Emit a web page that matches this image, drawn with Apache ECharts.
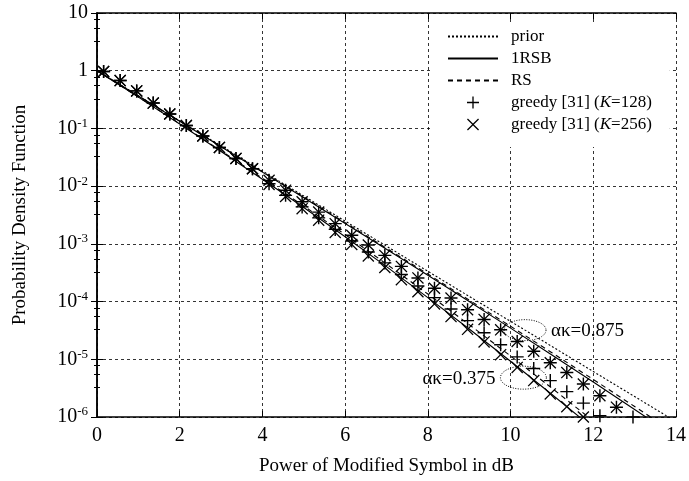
<!DOCTYPE html>
<html>
<head>
<meta charset="utf-8">
<script src="https://cdn.jsdelivr.net/npm/echarts@6/dist/echarts.min.js"></script>
<style>
  html, body { margin: 0; padding: 0; background: #fff; }
  #chart { width: 689px; height: 481px; }
</style>
</head>
<body>
<div id="chart"></div>
<script>
// curves (x in dB, pdf values)
const lineX = [0, 1, 2, 3, 4, 5, 6, 7, 8, 9, 10, 11, 12, 13, 14]
const prior = [1, 0.368, 0.135, 0.0498, 0.0183, 6.74e-3, 2.48e-3, 9.12e-4, 3.35e-4, 1.23e-4, 4.54e-5, 1.67e-5, 6.14e-6, 2.26e-6, 8.32e-7]
const rsb875 = [1, 0.366, 0.133, 0.0483, 0.0175, 6.31e-3, 2.26e-3, 8.07e-4, 2.85e-4, 1.0e-4, 3.47e-5, 1.19e-5, 4.03e-6, 1.35e-6, 4.47e-7]
const rs875 = [1, 0.366, 0.134, 0.0488, 0.0178, 6.46e-3, 2.33e-3, 8.39e-4, 3.0e-4, 1.06e-4, 3.74e-5, 1.30e-5, 4.47e-6, 1.52e-6, 5.13e-7]
const rsb375 = [1, 0.349, 0.119, 0.0398, 0.0132, 4.27e-3, 1.33e-3, 4.03e-4, 1.17e-4, 3.35e-5, 9.23e-6, 2.45e-6, 6.38e-7]
const rs375 = [1, 0.351, 0.121, 0.0409, 0.0137, 4.52e-3, 1.45e-3, 4.47e-4, 1.35e-4, 3.98e-5, 1.14e-5, 3.16e-6, 8.51e-7]

// greedy [31] simulation points
const markerX = [0.16, 0.56, 0.96, 1.36, 1.76, 2.16, 2.56, 2.96, 3.36, 3.76, 4.16, 4.56, 4.96, 5.36, 5.76, 6.16, 6.56, 6.96, 7.36, 7.76, 8.16, 8.56, 8.96, 9.36, 9.76, 10.16, 10.56, 10.96, 11.36, 11.76, 12.16, 12.56, 12.96]
const k128a875 = [0.97, 0.676, 0.447, 0.275, 0.178, 0.112, 0.0741, 0.0468, 0.0302, 0.0200, 0.0126, 8.51e-3, 5.37e-3, 3.55e-3, 2.24e-3, 1.41e-3, 9.55e-4, 6.31e-4, 4.07e-4, 2.57e-4, 1.70e-4, 1.15e-4, 7.24e-5, 4.90e-5, 3.24e-5, 2.04e-5, 1.38e-5, 8.71e-6, 5.89e-6, 3.72e-6, 2.34e-6, 1.48e-6, 1.0e-6]
const k256a875 = [0.97, 0.676, 0.447, 0.275, 0.178, 0.112, 0.0741, 0.0468, 0.0302, 0.0200, 0.0126, 8.51e-3, 5.37e-3, 3.55e-3, 2.24e-3, 1.41e-3, 9.55e-4, 6.31e-4, 4.07e-4, 2.57e-4, 1.70e-4, 1.15e-4, 7.24e-5, 4.90e-5, 3.24e-5, 2.04e-5, 1.38e-5, 8.71e-6, 5.89e-6, 3.72e-6, 2.34e-6, 1.48e-6]
const k128a375 = [0.97, 0.676, 0.447, 0.275, 0.178, 0.112, 0.0741, 0.0468, 0.0302, 0.0200, 0.0110, 6.92e-3, 4.37e-3, 2.82e-3, 1.78e-3, 1.12e-3, 7.24e-4, 4.68e-4, 2.95e-4, 1.86e-4, 1.17e-4, 7.41e-5, 4.68e-5, 2.88e-5, 1.78e-5, 1.10e-5, 6.92e-6, 4.27e-6, 2.75e-6, 1.74e-6, 1.05e-6]
const k256a375 = [0.97, 0.676, 0.447, 0.275, 0.178, 0.112, 0.0741, 0.0468, 0.0302, 0.0200, 0.0107, 6.61e-3, 4.07e-3, 2.57e-3, 1.58e-3, 9.77e-4, 6.17e-4, 3.89e-4, 2.40e-4, 1.48e-4, 9.12e-5, 5.50e-5, 3.31e-5, 2.00e-5, 1.20e-5, 7.24e-6, 4.27e-6, 2.51e-6, 1.51e-6, 1.0e-6]

// oval annotations (x, y in data units)
const noteX = [10.35, 10.31]
const noteY = [3.2e-5, 4.8e-6]
const noteText = ['ακ=0.875', 'ακ=0.375']

const FONT = 'Liberation Serif'
const PLUS = 'path://M4.45,0H5.55V4.45H10V5.55H5.55V10H4.45V5.55H0V4.45H4.45Z'
const CROSS = 'path://M0,0.75L0.75,0L5,4.25L9.25,0L10,0.75L5.75,5L10,9.25L9.25,10L5,5.75L0.75,10L0,9.25L4.25,5Z'

const pair = (xs, ys) => ys.map((y, i) => [xs[i], y])

function lineSeries(name, ys, type) {
  return {
    name: name,
    type: 'line',
    data: pair(lineX, ys),
    symbol: 'none',
    clip: true,
    lineStyle: { color: '#000', width: 1.1, type: type },
    itemStyle: { color: '#000' },
    z: 3
  }
}

function supLabel(v) {
  const e = Math.round(Math.log10(v))
  if (e === 1) return '10'
  if (e === 0) return '1'
  return '10{s|' + e + '}'
}

// line entries in the legend: hide the default circle, keep the stroke
const noDot = { opacity: 0 }

let chart = echarts.init(document.getElementById('chart'))
chart.setOption({
  animation: false,
  textStyle: { fontFamily: FONT, color: '#000' },
  grid: { left: 97, right: 11, top: 13, bottom: 62 },
  legend: {
    data: [
      { name: 'prior', itemStyle: noDot },
      { name: '1RSB', itemStyle: noDot },
      { name: 'RS', itemStyle: noDot },
      'greedy [31] (K=128)',
      'greedy [31] (K=256)'
    ],
    orient: 'vertical',
    left: 430,
    top: 22,
    itemWidth: 50,
    itemHeight: 12,
    itemGap: 5,
    padding: [6, 18, 14, 17],
    backgroundColor: '#fff',
    formatter: (n) => n.replace('(K=', '({i|K}='),
    textStyle: {
      fontFamily: FONT, fontSize: 17, lineHeight: 17, color: '#000', padding: [0, 0, 0, 8],
      rich: { i: { fontFamily: FONT, fontSize: 17, lineHeight: 17, fontStyle: 'italic', color: '#000' } }
    }
  },
  xAxis: [{
    type: 'value', min: 0, max: 14, interval: 2,
    name: 'Power of Modified Symbol in dB',
    nameLocation: 'middle', nameGap: 40,
    nameTextStyle: { fontFamily: FONT, fontSize: 19, color: '#000' },
    axisLine: { lineStyle: { color: '#000', width: 1.5 } },
    axisTick: { inside: true, length: 6, lineStyle: { color: '#000' } },
    axisLabel: { fontFamily: FONT, fontSize: 20, color: '#000', margin: 9 },
    splitLine: { show: true, lineStyle: { color: '#000', width: 0.8, type: [3, 3] } }
  }, {
    type: 'value', min: 0, max: 14, interval: 2, position: 'top',
    axisLine: { lineStyle: { color: '#000', width: 1.5 } },
    axisTick: { inside: true, length: 6, lineStyle: { color: '#000' } },
    axisLabel: { show: false },
    splitLine: { show: false }
  }],
  yAxis: [{
    type: 'log', logBase: 10, min: 1e-6, max: 10,
    name: 'Probability Density Function',
    nameLocation: 'middle', nameGap: 67, nameRotate: 90,
    nameTextStyle: { fontFamily: FONT, fontSize: 19, color: '#000' },
    axisLine: { lineStyle: { color: '#000', width: 1.5 } },
    axisTick: { inside: true, length: 6, lineStyle: { color: '#000' } },
    minorTick: { show: true, splitNumber: 4, length: 3, lineStyle: { color: '#000' } },
    axisLabel: {
      fontFamily: FONT, fontSize: 20, color: '#000', margin: 9,
      formatter: supLabel,
      rich: { s: { fontFamily: FONT, fontSize: 13, color: '#000', verticalAlign: 'bottom', padding: [0, 0, 10, 0] } }
    },
    splitLine: { show: true, lineStyle: { color: '#000', width: 0.8, type: [3, 3] } }
  }, {
    type: 'log', logBase: 10, min: 1e-6, max: 10, position: 'right',
    axisLine: { lineStyle: { color: '#000', width: 1.5 } },
    axisTick: { inside: true, length: 6, lineStyle: { color: '#000' } },
    minorTick: { show: true, splitNumber: 4, length: 3, lineStyle: { color: '#000' } },
    axisLabel: { show: false },
    splitLine: { show: false }
  }],
  series: [
    lineSeries('prior', prior, [2, 2]),
    lineSeries('1RSB', rsb875, 'solid'),
    lineSeries('1RSB', rsb375, 'solid'),
    lineSeries('RS', rs875, [5, 4]),
    lineSeries('RS', rs375, [5, 4]),
    {
      name: 'greedy [31] (K=128)', type: 'scatter',
      data: pair(markerX, k128a875).concat(pair(markerX, k128a375)),
      symbol: PLUS, symbolSize: 13,
      itemStyle: { color: '#000', opacity: 1 }, z: 4
    },
    {
      name: 'greedy [31] (K=256)', type: 'scatter',
      data: pair(markerX, k256a875).concat(pair(markerX, k256a375)),
      symbol: CROSS, symbolSize: 12,
      itemStyle: { color: '#000', opacity: 1 }, z: 4
    },
    {
      type: 'custom',
      data: noteX.map((x, i) => [x, noteY[i]]),
      clip: false,
      z: 5,
      renderItem: (params, api) => {
        const c = api.coord([api.value(0), api.value(1)])
        const i = params.dataIndex
        const rx = i === 0 ? 21 : 23
        const ry = i === 0 ? 10.5 : 11.5
        const pts = []
        for (let k = 0; k <= 48; k++) {
          const t = k / 48 * Math.PI * 2
          pts.push([c[0] + rx * Math.cos(t), c[1] + ry * Math.sin(t)])
        }
        const left = i === 0
        return {
          type: 'group',
          children: [
            { type: 'polyline', shape: { points: pts },
              style: { stroke: '#000', fill: null, lineWidth: 1, lineDash: [1, 1.5] } },
            { type: 'text',
              style: {
                text: noteText[i],
                x: left ? c[0] + rx + 5 : c[0] - rx - 5,
                y: c[1] + 1,
                align: left ? 'left' : 'right',
                verticalAlign: 'middle',
                textAlign: left ? 'left' : 'right',
                textVerticalAlign: 'middle',
                font: '19px "Liberation Serif"',
                fill: '#000'
              } }
          ]
        }
      }
    }
  ]
})
</script>
</body>
</html>
